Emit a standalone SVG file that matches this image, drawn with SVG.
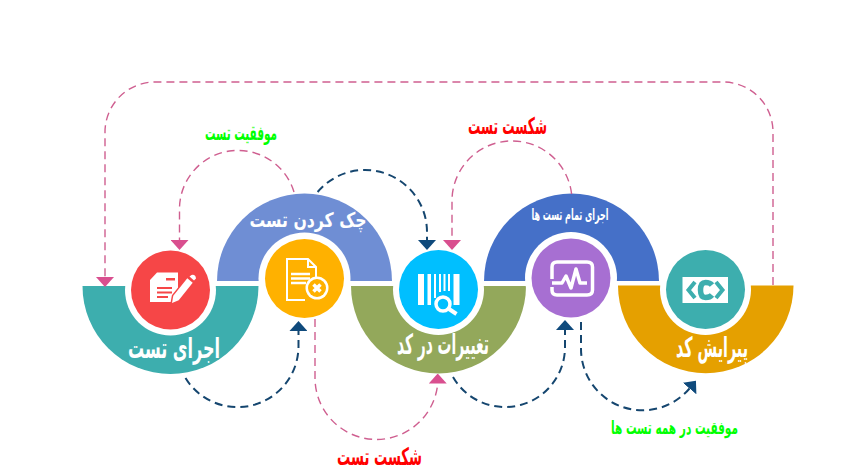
<svg xmlns="http://www.w3.org/2000/svg" width="846" height="475" viewBox="0 0 846 475">
<style>
text{font-family:"DejaVu Sans",sans-serif;direction:rtl;unicode-bidi:embed;text-anchor:middle;font-weight:bold}
.w{fill:#fff}.g{fill:#00ff00}.r{fill:#ff0000}
.p,.n{fill:none;stroke-dasharray:8 5}
.p{stroke:#cf5f90;stroke-width:1.4}
.n{stroke:#15466f;stroke-width:2}
.ic{fill:#fff;stroke:none}
.ol{fill:none;stroke:#fff}
.ring{fill:#fff}
</style>
<defs>
<marker id="ap2" markerUnits="userSpaceOnUse" markerWidth="10" markerHeight="18" refX="0" refY="9" orient="auto" viewBox="0 0 10 18"><path d="M0 0L10 9L0 18Z" fill="#d94f8f"/></marker>
<marker id="an2" markerUnits="userSpaceOnUse" markerWidth="10" markerHeight="18" refX="0" refY="9" orient="auto" viewBox="0 0 10 18"><path d="M0 0L10 9L0 18Z" fill="#0f4a7c"/></marker>
</defs>
<g id="node-run-test">
<path fill="#3daeae" d="M82.500 286H258.500A88 88 0 0 1 82.500 286Z"/>
<circle class="ring" cx="170.500" cy="290" r="45.500"/>
<circle cx="170.500" cy="290" r="39.500" fill="#f64647"/>
<path class="ic" d="M150 280L157 272.500H178V302H150Z"/>
<path fill="#f64647" d="M166 278H175V280.500H166ZM157 287H172V289H157ZM157 291.500H172V293.500H157ZM157 296H168V298H157Z"/>
<path class="ic" style="stroke:#f64647;stroke-width:3;paint-order:stroke" d="M172 303L173.300 295.800L187.300 278.300L192.700 282.700L178.700 300.200Z"/>
<path class="ic" d="M189.500 276.500L191.500 275Q195.500 274 196 278.500L194 280.500Z"/>
<text class="w" x="174" y="358" font-size="28" textLength="92" lengthAdjust="spacingAndGlyphs">اجرای تست</text>
</g>
<g id="node-check-test">
<path fill="#6f8ed4" d="M217 281A87.500 87.500 0 0 1 392 281Z"/>
<circle class="ring" cx="304.500" cy="278.500" r="46"/>
<circle cx="304.500" cy="278.500" r="39.500" fill="#ffb100"/>
<path class="ol" stroke-width="2" d="M316 289V267L308 259H287V300H305M308 259V267H316"/>
<path class="ol" stroke-width="2.500" d="M291 274H310M291 278.500H310M291 283H306"/>
<circle cx="317" cy="288" r="11.500" fill="#fff"/>
<circle cx="317" cy="288" r="9" fill="#ffb100"/>
<path class="ol" stroke-width="3.500" d="M313.500 284.500L320.500 291.500M320.500 284.500L313.500 291.500"/>
<text class="w" x="308" y="227" font-size="20" textLength="117" lengthAdjust="spacingAndGlyphs">چک کردن تست</text>
</g>
<g id="node-code-changes">
<path fill="#93a85b" d="M351 286H526A87.500 87.500 0 0 1 351 286Z"/>
<circle class="ring" cx="438.500" cy="289.500" r="45.500"/>
<circle cx="438.500" cy="289.500" r="39.500" fill="#00bfff"/>
<path class="ic" d="M418 274H424V305H418ZM427.500 274H431V305H427.500ZM434 274H436V298H434ZM439 274H441V292H439ZM443.500 274H445.500V291H443.500ZM448 274H450V291H448ZM453.500 274H459.500V305H453.500Z"/>
<circle cx="443" cy="304" r="7" fill="#00bfff" stroke="#fff" stroke-width="3.500"/>
<path class="ol" stroke-width="4" d="M449 309L456.500 314"/>
<text class="w" x="443" y="354" font-size="28" textLength="92" lengthAdjust="spacingAndGlyphs">تغییرات در کد</text>
</g>
<g id="node-run-all-tests">
<path fill="#4570c8" d="M484 281A87.500 87.500 0 0 1 659 281Z"/>
<circle class="ring" cx="571" cy="278" r="46"/>
<circle cx="571" cy="278" r="39.500" fill="#a76fd2"/>
<path class="ol" stroke-width="3.500" stroke-linejoin="round" d="M552 279V267Q552 262 557 262H587Q592.500 262 592.500 267V290Q592.500 295 587 295H557Q552 295 552 290V287"/>
<path class="ol" stroke-width="3.500" stroke-linejoin="round" d="M552 283H562L566 276L571 288L576 269L580 283H587"/>
<text class="w" x="570" y="220" font-size="16" textLength="77" lengthAdjust="spacingAndGlyphs">اجرای تمام تست ها</text>
</g>
<g id="node-edit-code">
<path fill="#e5a000" d="M618 285.500H793.500A87.500 87.500 0 0 1 618 285.500Z"/>
<circle class="ring" cx="705.500" cy="289.500" r="45.500"/>
<circle cx="705.500" cy="289.500" r="39.500" fill="#3daeae"/>
<rect class="ic" x="682.500" y="277" width="45.500" height="26"/>
<path fill="none" stroke="#3daeae" stroke-width="4" d="M695 282L688.500 290L695 298M716 282L722.500 290L716 298"/>
<path fill="none" stroke="#3daeae" stroke-width="5.500" d="M712 285Q710 282.500 705.500 282.500Q700.500 282.500 700.500 290Q700.500 297.500 705.500 297.500Q710 297.500 712 295"/>
<text class="w" x="712" y="357" font-size="28" textLength="72" lengthAdjust="spacingAndGlyphs">پیرایش کد</text>
</g>
<g id="connectors">
<path class="p" marker-end="url(#ap2)" d="M773 285V132A50 50 0 0 0 723 82H155A50 50 0 0 0 105 132V277"/>
<path class="p" marker-end="url(#ap2)" d="M294 192A58.500 58.500 0 0 0 179.500 209V240"/>
<path class="n" marker-end="url(#an2)" d="M317.600 192A62 62 0 0 1 427 232V240"/>
<path class="p" marker-end="url(#ap2)" d="M571.600 194A60 60 0 0 0 452 201V240"/>
<path class="p" marker-end="url(#ap2)" d="M315 319V378A61.500 61.500 0 0 0 437.700 384V383.500"/>
<path class="n" marker-end="url(#an2)" d="M185.500 378A61 61 0 0 0 298.500 347V331"/>
<path class="n" marker-end="url(#an2)" d="M453 377A60 60 0 0 0 565 347V330"/>
<path class="n" marker-end="url(#an2)" d="M581 322V349A61.500 61.500 0 0 0 689.500 388.500"/>
</g>
<g id="labels">
<text class="g" x="241" y="140" font-size="20" textLength="72" lengthAdjust="spacingAndGlyphs">موفقیت تست</text>
<text class="r" x="507.500" y="134" font-size="23" textLength="79" lengthAdjust="spacingAndGlyphs">شکست تست</text>
<text class="r" x="379.500" y="465" font-size="24" textLength="85" lengthAdjust="spacingAndGlyphs">شکست تست</text>
<text class="g" x="674.500" y="434" font-size="18" textLength="127" lengthAdjust="spacingAndGlyphs">موفقیت در همه تست ها</text>
</g>
</svg>
